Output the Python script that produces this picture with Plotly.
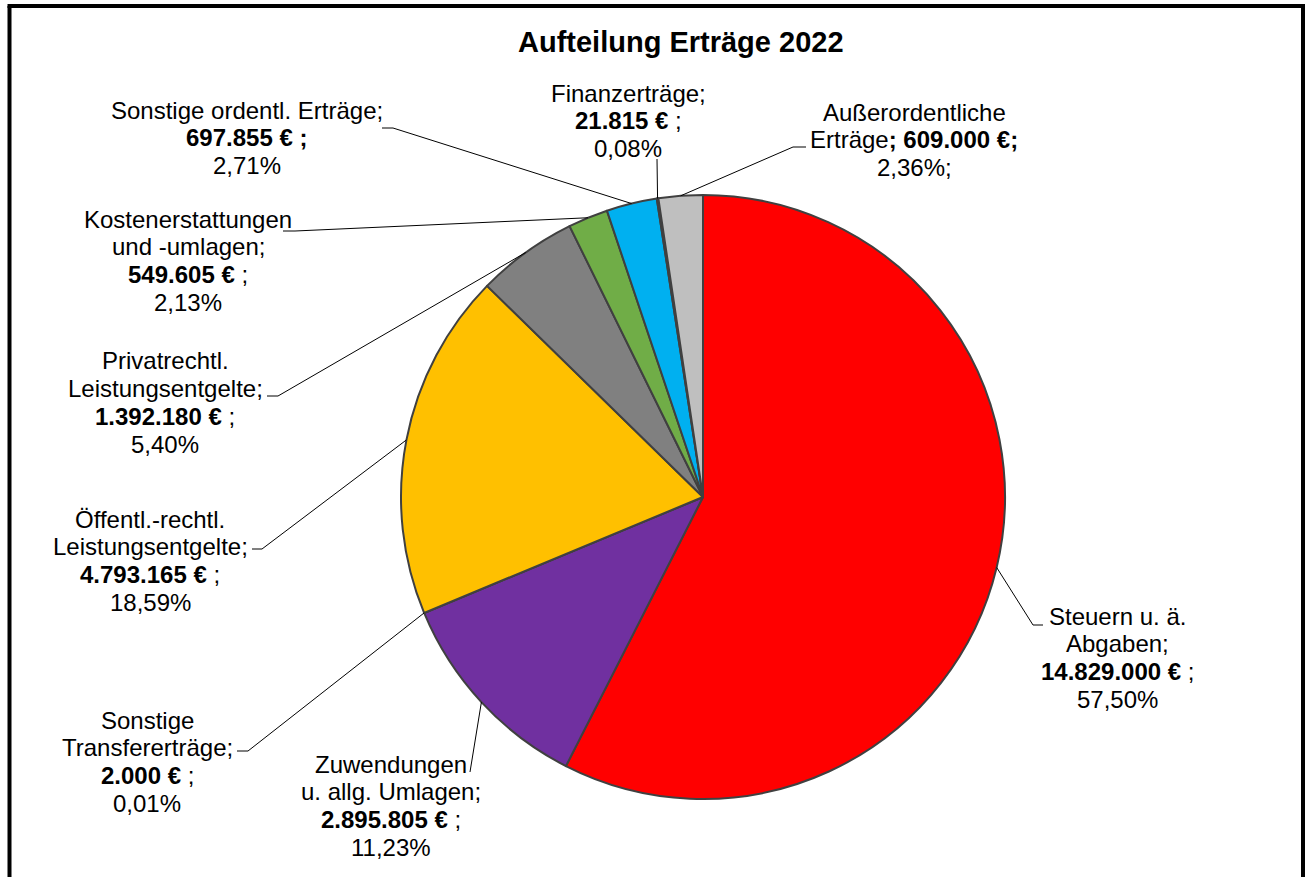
import math
import plotly.graph_objects as go

# --- data -----------------------------------------------------------------
categories = [
    "Steuern u. ä. Abgaben",
    "Zuwendungen u. allg. Umlagen",
    "Sonstige Transfererträge",
    "Öffentl.-rechtl. Leistungsentgelte",
    "Privatrechtl. Leistungsentgelte",
    "Kostenerstattungen und -umlagen",
    "Sonstige ordentl. Erträge",
    "Finanzerträge",
    "Außerordentliche Erträge",
]
values = [14829000, 2895805, 2000, 4793165, 1392180, 549605, 697855, 21815, 609000]

# label text lines ({v} = amount, {p} = share)
label_lines = [
    ["Steuern u. ä.", "Abgaben;", "<b>{v} €</b> ;", "{p}"],
    ["Zuwendungen", "u. allg. Umlagen;", "<b>{v} €</b> ;", "{p}"],
    ["Sonstige", "Transfererträge;", "<b>{v} €</b> ;", "{p}"],
    ["Öffentl.-rechtl.", "Leistungsentgelte;", "<b>{v} €</b> ;", "{p}"],
    ["Privatrechtl.", "Leistungsentgelte;", "<b>{v} €</b> ;", "{p}"],
    ["Kostenerstattungen", "und -umlagen;", "<b>{v} €</b> ;", "{p}"],
    ["Sonstige ordentl. Erträge;", "<b>{v} € ;</b>", "{p}"],
    ["Finanzerträge;", "<b>{v} €</b> ;", "{p}"],
    ["Außerordentliche", "Erträge<b>; {v} €;</b>", "{p};"],
]
title_text = "<b>Aufteilung Erträge 2022</b>"

# --- styling / layout -------------------------------------------------------
W, H = 1308, 877
colors = ["#FF0000", "#7030A0", "#4472C4", "#FFC000", "#808080",
          "#70AD47", "#00B0F0", "#1F3864", "#BFBFBF"]
FONT = "Liberation Sans, Arial, sans-serif"
LABEL_SIZE = 24
LINE_STEP = 27.8

CX, CY, R = 703, 497, 302          # pie centre and radius in pixels

# label block: centre x and y of first line (pixels)
label_pos = [
    (1117, 616), (391, 764), (147, 720), (150, 519), (165, 361),
    (188, 219), (247, 110), (628, 93), (914, 112),
]
# leader line path after leaving the slice edge (pixels)
leader_path = [
    [(1033, 625), (1043, 625)],
    [(470, 772)],
    [(248, 751), (237, 751)],
    [(262, 549), (252, 549)],
    [(278, 396), (267, 396)],
    [(295, 231), (283, 231)],
    [(393, 128), (382, 128)],
    [(657, 159)],
    [(793, 147), (806, 147)],
]


def px(x):
    return x / W


def py(y):
    return 1 - y / H


def de_num(v):
    return f"{v:,}".replace(",", ".")


total = sum(values)

fig = go.Figure()
fig.add_trace(go.Pie(
    labels=categories,
    values=values,
    sort=False,
    direction="clockwise",
    rotation=0,
    textinfo="none",
    hoverinfo="label+value+percent",
    marker=dict(colors=colors, line=dict(color="#404040", width=2)),
    domain=dict(x=[px(CX - R), px(CX + R)], y=[py(CY + R), py(CY - R)]),
    showlegend=False,
))

annotations = [dict(
    text=title_text, x=px(681), y=py(42), xref="paper", yref="paper",
    xanchor="center", yanchor="middle", showarrow=False,
    font=dict(family=FONT, size=29, color="#000000"),
)]
shapes = []

cum = 0.0
for i, v in enumerate(values):
    frac = v / total
    mid = (cum + frac / 2) * 2 * math.pi
    cum += frac
    # leader starts on the slice edge at its mid angle
    sx = CX + R * math.sin(mid)
    sy = CY - R * math.cos(mid)
    pts = [(sx, sy)] + leader_path[i]
    for (x0, y0), (x1, y1) in zip(pts[:-1], pts[1:]):
        shapes.append(dict(type="line", xref="paper", yref="paper",
                           x0=px(x0), y0=py(y0), x1=px(x1), y1=py(y1),
                           line=dict(color="#000000", width=1)))

    pct = f"{100 * frac:.2f}".replace(".", ",") + "%"
    lx, ly = label_pos[i]
    for k, line in enumerate(label_lines[i]):
        annotations.append(dict(
            text=line.format(v=de_num(v), p=pct),
            x=px(lx), y=py(ly + k * LINE_STEP), xref="paper", yref="paper",
            xanchor="center", yanchor="middle", showarrow=False,
            font=dict(family=FONT, size=LABEL_SIZE, color="#000000"),
        ))

# chart frame (left, top, right)
frame = dict(color="#000000", width=4)
shapes += [
    dict(type="line", xref="paper", yref="paper", x0=px(9.5), y0=py(6), x1=px(9.5), y1=py(H + 10), line=frame),
    dict(type="line", xref="paper", yref="paper", x0=px(7.5), y0=py(6), x1=px(1305), y1=py(6), line=frame),
    dict(type="line", xref="paper", yref="paper", x0=px(1303), y0=py(4), x1=px(1303), y1=py(H + 10), line=frame),
]

fig.update_layout(
    width=W, height=H, autosize=False,
    margin=dict(l=0, r=0, t=0, b=0),
    paper_bgcolor="#FFFFFF", plot_bgcolor="#FFFFFF",
    annotations=annotations, shapes=shapes,
    font=dict(family=FONT),
)

fig.write_html("out.html")
